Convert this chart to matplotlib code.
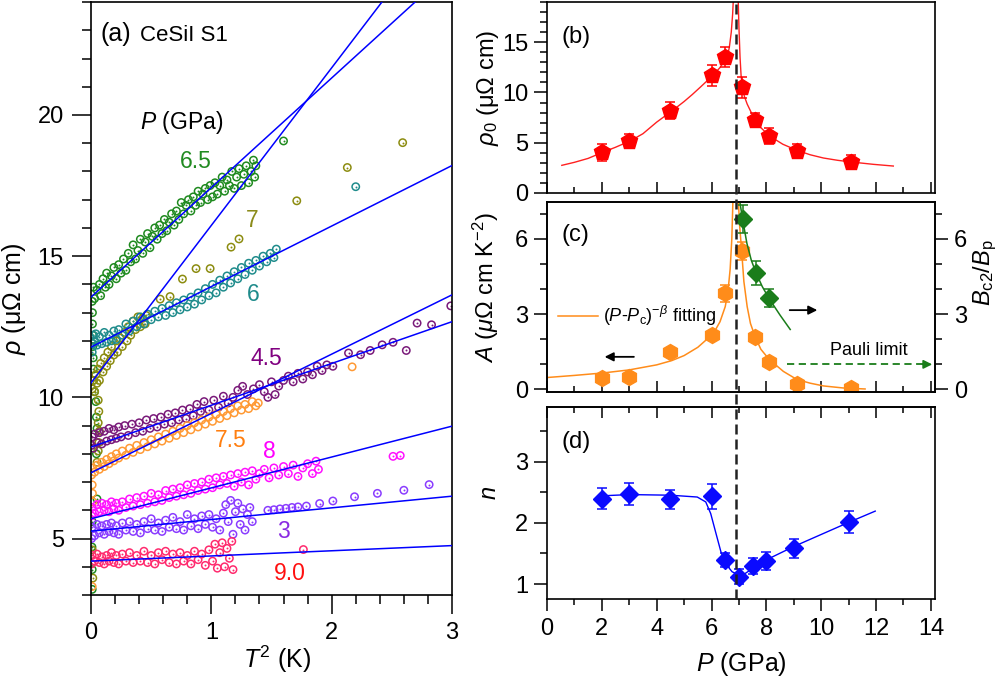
import matplotlib
matplotlib.use('Agg')
import matplotlib.pyplot as plt
from matplotlib.lines import Line2D
from matplotlib import transforms
from matplotlib.ticker import MultipleLocator

plt.rcParams['font.family'] = ['Liberation Sans', 'DejaVu Sans']
plt.rcParams['mathtext.fontset'] = 'custom'
plt.rcParams['mathtext.rm'] = 'Liberation Sans'
plt.rcParams['mathtext.it'] = 'Liberation Sans:italic'
plt.rcParams['mathtext.bf'] = 'Liberation Sans:bold'
plt.rcParams['axes.linewidth'] = 1.2

# ---------------- panel (a): rho vs T^2, one list of (T2, rho) per pressure
p65 = [(0.01, 13.4), (0.012, 13.0), (0.012, 12.6), (0.015, 12.2), (0.015, 11.8), (0.018, 11.4),
       (0.02, 11.0), (0.02, 10.6), (0.03, 10.2), (0.04, 9.85), (0.045, 9.3), (0.05, 8.9),
       (0.045, 8.0), (0.05, 6.4), (0.01, 5.6), (0.008, 4.7), (0.01, 3.9), (0.01, 3.2),
       (0.02, 13.9), (0.03, 13.5), (0.05, 13.8), (0.07, 14.0), (0.08, 13.6), (0.10, 14.2),
       (0.12, 13.9), (0.13, 14.4), (0.15, 14.0), (0.17, 14.3), (0.19, 14.6), (0.21, 14.2),
       (0.23, 14.7), (0.25, 14.4), (0.27, 14.9), (0.29, 14.5), (0.31, 15.1), (0.33, 14.8),
       (0.35, 15.4), (0.37, 14.9), (0.39, 15.2), (0.41, 15.6), (0.43, 15.1), (0.45, 15.5),
       (0.47, 15.8), (0.49, 15.3), (0.51, 15.7), (0.53, 16.0), (0.55, 15.6), (0.57, 16.1),
       (0.59, 15.8), (0.61, 16.3), (0.63, 15.9), (0.65, 16.2), (0.67, 16.5), (0.69, 16.1),
       (0.71, 16.6), (0.73, 16.3), (0.75, 16.9), (0.77, 16.5), (0.79, 16.8), (0.81, 17.0),
       (0.83, 16.6), (0.85, 17.1), (0.87, 16.8), (0.89, 17.3), (0.91, 16.9), (0.93, 17.2),
       (0.95, 17.4), (0.97, 17.0), (0.99, 17.5), (1.01, 17.1), (1.03, 17.6), (1.05, 17.2),
       (1.07, 17.5), (1.09, 17.8), (1.11, 17.3), (1.13, 17.7), (1.15, 17.5), (1.17, 18.0),
       (1.19, 17.4), (1.21, 17.8), (1.23, 18.1), (1.25, 17.5), (1.27, 17.9), (1.29, 18.2),
       (1.31, 17.6), (1.33, 18.0), (1.35, 18.4), (1.36, 17.8), (1.37, 18.2), (1.60, 19.08)]

p7 = [(0.01, 10.3), (0.02, 10.6), (0.03, 10.2), (0.04, 10.8), (0.05, 10.5), (0.06, 11.0),
      (0.07, 10.6), (0.08, 11.2), (0.10, 10.9), (0.11, 11.4), (0.13, 11.1), (0.14, 11.6),
      (0.16, 11.3), (0.17, 11.8), (0.19, 11.5), (0.21, 12.0), (0.22, 11.6), (0.24, 12.1),
      (0.26, 11.8), (0.28, 12.3), (0.30, 12.0), (0.31, 12.5), (0.33, 12.2), (0.35, 12.7),
      (0.37, 12.4), (0.39, 12.85), (0.41, 12.5), (0.43, 12.8), (0.45, 12.6), (0.46, 12.9),
      (0.575, 13.48), (0.657, 13.57), (0.76, 14.19), (0.873, 14.56), (0.99, 14.56),
      (1.164, 15.32), (1.23, 15.61), (1.71, 16.96), (2.13, 18.14), (2.59, 19.02),
      (0.06, 9.9), (0.065, 9.5), (0.06, 9.1), (0.07, 8.8), (0.065, 8.4), (0.06, 8.1),
      (0.05, 7.7), (0.01, 4.6), (0.015, 3.6)]

p6 = [(0.01, 11.6), (0.015, 11.9), (0.02, 12.2), (0.03, 12.0), (0.04, 12.25), (0.05, 11.85),
      (0.07, 12.15), (0.09, 11.9), (0.11, 12.3), (0.13, 11.95), (0.15, 12.2), (0.17, 12.0),
      (0.19, 12.35), (0.21, 12.05), (0.23, 12.4), (0.26, 12.2), (0.29, 12.6), (0.32, 12.35),
      (0.35, 12.7), (0.38, 12.5), (0.41, 12.85), (0.44, 12.6), (0.47, 12.95), (0.50, 12.75),
      (0.53, 13.05), (0.56, 12.85), (0.59, 13.15), (0.62, 12.9), (0.65, 13.25), (0.68, 13.0),
      (0.71, 13.35), (0.74, 13.1), (0.77, 13.45), (0.80, 13.2), (0.83, 13.55), (0.86, 13.3),
      (0.89, 13.7), (0.92, 13.45), (0.95, 13.85), (0.98, 13.6), (1.01, 14.0), (1.04, 13.7),
      (1.07, 14.15), (1.10, 13.9), (1.13, 14.3), (1.16, 14.05), (1.19, 14.45), (1.22, 14.2),
      (1.25, 14.6), (1.28, 14.35), (1.31, 14.75), (1.34, 14.5), (1.37, 14.85), (1.40, 14.65),
      (1.43, 15.0), (1.46, 14.8), (1.49, 15.1), (1.52, 14.95), (1.54, 15.25), (2.2, 17.46)]

p45 = [(0.005, 8.3), (0.01, 8.6), (0.02, 8.2), (0.03, 8.7), (0.05, 8.4), (0.07, 8.75),
       (0.09, 8.35), (0.11, 8.8), (0.13, 8.45), (0.15, 8.9), (0.17, 8.5), (0.19, 8.85),
       (0.21, 8.55), (0.23, 8.95), (0.25, 8.6), (0.28, 9.0), (0.31, 8.65), (0.34, 9.05),
       (0.37, 8.75), (0.40, 9.1), (0.43, 8.8), (0.46, 9.2), (0.49, 8.9), (0.52, 9.25),
       (0.55, 8.95), (0.58, 9.3), (0.61, 9.05), (0.64, 9.4), (0.67, 9.1), (0.70, 9.45),
       (0.73, 9.2), (0.76, 9.55), (0.79, 9.25), (0.82, 9.6), (0.85, 9.35), (0.88, 9.75),
       (0.91, 9.5), (0.94, 9.85), (0.98, 9.55), (1.02, 9.9), (1.06, 9.65), (1.10, 10.04),
       (1.14, 9.8), (1.18, 10.0), (1.22, 10.25), (1.26, 10.39), (1.30, 10.1), (1.35, 10.3),
       (1.40, 10.45), (1.44, 10.2), (1.47, 10.0), (1.50, 10.55), (1.53, 10.1), (1.56, 10.4),
       (1.60, 10.6), (1.64, 10.75), (1.68, 10.55), (1.72, 10.85), (1.76, 10.65), (1.80, 10.9),
       (1.84, 10.8), (1.88, 11.1), (1.92, 10.95), (1.96, 11.15), (2.01, 11.1), (2.14, 11.57),
       (2.24, 11.51), (2.32, 11.66), (2.42, 11.86), (2.51, 11.95), (2.62, 11.66),
       (2.71, 12.63), (2.83, 12.57), (2.99, 13.24)]

p75 = [(0.01, 6.9), (0.012, 6.6), (0.015, 6.3), (0.01, 3.3), (0.005, 7.25), (0.01, 7.5),
       (0.03, 7.35), (0.05, 7.6), (0.07, 7.45), (0.09, 7.7), (0.11, 7.55), (0.13, 7.8),
       (0.15, 7.65), (0.17, 7.9), (0.19, 7.75), (0.21, 8.0), (0.23, 7.85), (0.26, 8.1),
       (0.29, 7.95), (0.32, 8.2), (0.35, 8.05), (0.38, 8.3), (0.41, 8.15), (0.44, 8.4),
       (0.47, 8.25), (0.50, 8.5), (0.53, 8.35), (0.56, 8.6), (0.59, 8.45), (0.62, 8.7),
       (0.65, 8.55), (0.68, 8.8), (0.71, 8.65), (0.74, 8.9), (0.77, 8.75), (0.80, 9.0),
       (0.83, 8.85), (0.86, 9.1), (0.89, 8.95), (0.92, 9.2), (0.95, 9.05), (0.98, 9.3),
       (1.01, 9.15), (1.04, 9.4), (1.07, 9.25), (1.10, 9.5), (1.13, 9.35), (1.16, 9.6),
       (1.19, 9.45), (1.22, 9.7), (1.25, 9.55), (1.28, 9.75), (1.31, 9.6), (1.34, 9.85),
       (1.37, 9.7), (1.39, 9.8), (2.17, 11.08)]

p8 = [(0.005, 5.8), (0.01, 6.1), (0.03, 5.9), (0.05, 6.2), (0.07, 5.95), (0.09, 6.25),
      (0.11, 6.0), (0.13, 6.2), (0.15, 5.95), (0.17, 6.3), (0.19, 6.05), (0.21, 6.25),
      (0.23, 6.0), (0.26, 6.3), (0.29, 6.1), (0.32, 6.4), (0.35, 6.15), (0.38, 6.45),
      (0.41, 6.2), (0.44, 6.5), (0.47, 6.25), (0.50, 6.6), (0.53, 6.3), (0.56, 6.55),
      (0.59, 6.35), (0.62, 6.7), (0.65, 6.45), (0.68, 6.75), (0.71, 6.5), (0.74, 6.8),
      (0.77, 6.55), (0.80, 6.9), (0.83, 6.6), (0.86, 6.95), (0.89, 6.7), (0.92, 7.0),
      (0.95, 6.75), (0.98, 7.1), (1.01, 6.8), (1.04, 7.15), (1.07, 6.9), (1.10, 7.2),
      (1.13, 6.95), (1.16, 7.25), (1.19, 6.85), (1.22, 7.3), (1.25, 7.0), (1.28, 7.35),
      (1.31, 6.9), (1.34, 7.4), (1.37, 7.1), (1.40, 7.3), (1.44, 7.45), (1.48, 7.15),
      (1.52, 7.5), (1.56, 7.25), (1.60, 7.55), (1.64, 7.3), (1.68, 7.6), (1.72, 7.2),
      (1.76, 7.5), (1.80, 7.65), (1.84, 7.3), (1.87, 7.74), (1.89, 7.45),
      (2.51, 7.91), (2.57, 7.94)]

p3 = [(0.005, 5.0), (0.01, 5.4), (0.03, 5.1), (0.05, 5.5), (0.07, 5.2), (0.09, 5.45),
      (0.11, 5.15), (0.13, 5.5), (0.15, 5.25), (0.17, 5.55), (0.19, 5.2), (0.21, 5.45),
      (0.23, 5.15), (0.26, 5.55), (0.29, 5.3), (0.32, 5.6), (0.35, 5.25), (0.38, 5.5),
      (0.41, 5.2), (0.44, 5.6), (0.47, 5.35), (0.50, 5.7), (0.53, 5.3), (0.56, 5.55),
      (0.59, 5.25), (0.62, 5.65), (0.65, 5.4), (0.68, 5.75), (0.71, 5.35), (0.74, 5.6),
      (0.77, 5.3), (0.80, 5.85), (0.83, 5.45), (0.86, 5.7), (0.89, 5.35), (0.92, 5.8),
      (0.95, 5.5), (0.98, 5.85), (1.01, 5.4), (1.04, 5.7), (1.07, 5.3), (1.10, 5.9),
      (1.12, 6.2), (1.14, 5.6), (1.16, 6.35), (1.18, 5.15), (1.20, 5.95), (1.22, 6.25),
      (1.24, 5.5), (1.26, 6.05), (1.28, 5.3), (1.30, 5.85), (1.32, 6.1), (1.34, 5.6),
      (1.47, 6.0), (1.52, 6.02), (1.57, 6.05), (1.62, 6.07), (1.67, 6.1), (1.72, 6.12),
      (1.79, 6.15), (1.90, 6.24), (2.01, 6.33), (2.19, 6.48), (2.38, 6.6), (2.6, 6.71),
      (2.81, 6.91)]

p9 = [(0.005, 4.1), (0.01, 4.4), (0.03, 4.2), (0.05, 4.45), (0.07, 4.15), (0.09, 4.35),
      (0.11, 4.1), (0.13, 4.4), (0.15, 4.2), (0.17, 4.5), (0.19, 4.15), (0.21, 4.4),
      (0.23, 4.1), (0.26, 4.45), (0.29, 4.2), (0.32, 4.5), (0.35, 4.15), (0.38, 4.4),
      (0.41, 4.2), (0.44, 4.55), (0.47, 4.15), (0.50, 4.4), (0.53, 4.1), (0.56, 4.5),
      (0.59, 4.25), (0.62, 4.55), (0.65, 4.15), (0.68, 4.45), (0.71, 4.1), (0.74, 4.5),
      (0.77, 4.2), (0.80, 4.4), (0.83, 4.1), (0.86, 4.55), (0.89, 4.25), (0.92, 4.45),
      (0.95, 4.05), (0.98, 4.6), (1.01, 4.2), (1.03, 4.8), (1.05, 3.95), (1.07, 4.5),
      (1.09, 4.85), (1.11, 4.0), (1.13, 4.65), (1.15, 4.3), (1.17, 4.9), (1.18, 3.9),
      (1.765, 4.61)]

series_a = [p65, p7, p6, p45, p75, p8, p3, p9]
series_col = ['#1f8a1f', '#8c8c10', '#1f8c8c', '#7a1a7a', '#ff9a35', '#ff10ff', '#8a3cff', '#ff2a6e']
series_dot = [True, True, True, True, False, True, True, True]

# straight T^2 fits: rho at T^2 = 0 and at T^2 = 3
fit_start = [13.55, 10.51, 11.78, 8.24, 7.33, 5.70, 5.26, 4.20]
fit_end = [25.19, 27.25, 18.21, 12.68, 13.63, 8.98, 6.50, 4.75]

lab_text = ['6.5', '7', '6', '4.5', '7.5', '8', '3', '9.0']
lab_x = [0.87, 1.34, 1.35, 1.46, 1.16, 1.48, 1.60, 1.65]
lab_y = [18.35, 16.25, 13.63, 11.39, 8.47, 8.09, 5.26, 3.76]
lab_col = ['#228b22', '#8b8b1a', '#1f8b8b', '#800080', '#ff7f10', '#ff00ff', '#8a2be2', '#ff1010']

# ---------------- panels (b)-(d)
P_b = [2.0, 3.0, 4.5, 6.0, 6.5, 7.1, 7.6, 8.1, 9.1, 11.1]
rho0 = [4.03, 5.13, 8.2, 11.7, 13.55, 10.5, 7.3, 5.7, 4.18, 3.12]
rho0_err = [0.88, 0.7, 0.83, 1.04, 1.0, 1.0, 0.7, 0.78, 0.68, 0.63]
bfit_l_p = [0.54, 1.0, 1.5, 2.03, 2.5, 3.05, 3.5, 4.0, 4.55, 5.0, 5.3, 5.6, 6.07, 6.3, 6.58, 6.65, 6.72, 6.77, 6.8]
bfit_l_r = [2.75, 3.05, 3.44, 4.05, 4.55, 5.2, 5.9, 7.05, 8.15, 9.1, 9.8, 10.55, 11.75, 12.45, 13.6, 14.5, 16.0, 17.8, 19.5]
bfit_r_p = [6.97, 7.0, 7.04, 7.08, 7.13, 7.2, 7.3, 7.45, 7.59, 7.8, 8.1, 8.6, 9.11, 9.6, 10.08, 10.6, 11.14, 11.9, 12.63]
bfit_r_r = [19.5, 16.5, 13.5, 11.6, 10.5, 9.6, 8.85, 8.0, 7.35, 6.5, 5.7, 4.85, 4.25, 3.8, 3.48, 3.25, 3.07, 2.85, 2.68]

P_c = [2.0, 3.0, 4.5, 6.0, 6.5, 7.1, 7.6, 8.1, 9.1, 11.1]
A_c = [0.45, 0.51, 1.48, 2.15, 3.83, 5.52, 2.1, 1.08, 0.22, 0.05]
A_err = [0.1, 0.1, 0.1, 0.12, 0.33, 0.37, 0.12, 0.1, 0.08, 0.05]
cfit_l_p = [0.05, 1.0, 2.06, 3.0, 4.0, 4.55, 5.0, 5.5, 6.07, 6.31, 6.5, 6.6, 6.68, 6.74, 6.78]
cfit_l_a = [0.48, 0.56, 0.66, 0.78, 0.98, 1.15, 1.35, 1.68, 2.23, 2.7, 3.3, 3.9, 4.8, 6.0, 7.5]
cfit_r_p = [6.98, 7.02, 7.1, 7.18, 7.3, 7.42, 7.59, 7.8, 8.1, 8.62, 9.11, 9.6, 10.09, 10.8, 11.6]
cfit_r_a = [7.5, 6.6, 5.5, 4.3, 3.3, 2.63, 2.1, 1.6, 1.2, 0.72, 0.4, 0.25, 0.14, 0.06, 0.02]
P_bc2 = [7.13, 7.62, 8.1]
bc2 = [6.8, 4.65, 3.65]
bc2_err = [0.55, 0.47, 0.37]
bc2fit_p = [7.04, 7.13, 7.29, 7.45, 7.62, 7.85, 8.1, 8.5, 8.87]
bc2fit_v = [7.42, 6.8, 5.82, 5.15, 4.65, 4.1, 3.62, 2.96, 2.39]

P_d = [2.0, 3.0, 4.5, 6.0, 6.5, 7.0, 7.5, 8.0, 9.0, 11.0]
n_d = [2.39, 2.47, 2.38, 2.43, 1.39, 1.12, 1.29, 1.38, 1.58, 2.01]
n_err = [0.17, 0.18, 0.16, 0.21, 0.12, 0.12, 0.13, 0.15, 0.15, 0.18]
dfit_p = [2.02, 3.0, 4.5, 5.48, 5.79, 5.97, 6.16, 6.34, 6.5, 6.75, 6.98, 7.22, 7.49, 7.98, 8.99, 10.97, 11.97]
dfit_n = [2.44, 2.46, 2.45, 2.42, 2.34, 2.15, 1.83, 1.53, 1.34, 1.2, 1.15, 1.17, 1.25, 1.39, 1.61, 2.0, 2.19]

Pc = 6.89
pauli = 1.0

green = '#1a7d1a'
orange = '#ff8c1a'

fig = plt.figure(figsize=(10, 6.79), dpi=100)

# ---------------- (a)
ax = fig.add_axes([0.091, 0.1237, 0.361, 0.8733])
for pts, col, dot in zip(series_a, series_col, series_dot):
    xs = [p[0] for p in pts]
    ys = [p[1] for p in pts]
    ax.scatter(xs, ys, s=28, facecolors='none', edgecolors=col, linewidths=1.1, zorder=2)
    if dot:
        ax.scatter(xs, ys, s=2, color=col, linewidths=0, zorder=2)
for r0, r3 in zip(fit_start, fit_end):
    ax.plot([0, 3], [r0, r3], color='#0000ff', lw=1.1, zorder=3)
for t, x, y, c in zip(lab_text, lab_x, lab_y, lab_col):
    ax.text(x, y, t, color=c, fontsize=16.5, ha='center', va='center')
ax.text(0.41, 19.75, r'$P$ (GPa)', fontsize=16.5, va='center')
ax.text(0.025, 0.946, '(a)', fontsize=18, va='center', transform=ax.transAxes)
ax.text(0.136, 0.944, 'CeSiI S1', fontsize=16, va='center', transform=ax.transAxes)
ax.set_xlim(0, 3)
ax.set_ylim(3, 24)
ax.set_xticks([0, 1, 2, 3])
ax.set_yticks([5, 10, 15, 20])
ax.xaxis.set_minor_locator(MultipleLocator(0.2))
ax.yaxis.set_minor_locator(MultipleLocator(1))
ax.tick_params(which='major', direction='out', length=13.5, width=1.1, labelsize=17, pad=6)
ax.tick_params(which='minor', direction='out', length=6.5, width=1.1)
ax.set_xlabel(r'$T^2$ (K)', fontsize=18)
ax.set_ylabel(r'$\rho$ (μΩ cm)', fontsize=18)
ax.xaxis.set_label_coords(0.515, -0.082)
ax.yaxis.set_label_coords(-0.175, 0.5)

# ---------------- (b)
axb = fig.add_axes([0.547, 0.7158, 0.388, 0.2812])
axb.plot(bfit_l_p, bfit_l_r, color='#ff2020', lw=1.0)
axb.plot(bfit_r_p, bfit_r_r, color='#ff2020', lw=1.0)
axb.errorbar(P_b, rho0, yerr=rho0_err, fmt='p', color='#ff0000', ms=12, capsize=3.5,
             elinewidth=1.1, capthick=1.1)
axb.set_ylim(0, 19)
axb.set_yticks([0, 5, 10, 15])
axb.yaxis.set_minor_locator(MultipleLocator(1))
axb.set_ylabel(r'$\rho_0$ (μΩ cm)', fontsize=17)
axb.text(0.038, 0.817, '(b)', fontsize=17, va='center', transform=axb.transAxes)

# ---------------- (c)
axc = fig.add_axes([0.547, 0.4227, 0.388, 0.2803])
fit_line, = axc.plot(cfit_l_p, cfit_l_a, color=orange, lw=1.1,
                     label=r'($P$-$P_{\rm c}$)$^{-\beta}$ fitting')
axc.plot(cfit_r_p, cfit_r_a, color=orange, lw=1.1)
axc.errorbar(P_c, A_c, yerr=A_err, fmt='h', color=orange, ms=11.5, capsize=3.5,
             elinewidth=1.1, capthick=1.1)
axc.set_ylim(-0.1, 7.48)
axc.set_yticks([0, 3, 6])
axc.yaxis.set_minor_locator(MultipleLocator(1))
axc.set_ylabel(r'$A$ ($\mu\Omega$ cm K$^{-2}$)', fontsize=17)
axc.text(0.038, 0.824, '(c)', fontsize=17, va='center', transform=axc.transAxes)
axc.legend(handles=[fit_line], loc='center left', bbox_to_anchor=(0.028, 0.40), frameon=False,
           fontsize=13, handlelength=2.2, handletextpad=0.3, borderpad=0, borderaxespad=0)
axc.annotate('', xy=(2.0, 1.3), xytext=(3.27, 1.3),
             arrowprops=dict(arrowstyle='-|>', color='k', lw=1.3, mutation_scale=13))
axc.annotate('', xy=(9.96, 3.16), xytext=(8.75, 3.16),
             arrowprops=dict(arrowstyle='-|>', color='k', lw=1.3, mutation_scale=13))
axc.text(10.33, 1.57, 'Pauli limit', fontsize=13, va='center')

axc2 = axc.twinx()
axc2.plot(bc2fit_p, bc2fit_v, color=green, lw=1.1)
axc2.errorbar(P_bc2, bc2, yerr=bc2_err, fmt='D', color=green, ms=9, capsize=3.5,
              elinewidth=1.1, capthick=1.1)
axc2.plot([8.75, 13.7], [pauli, pauli], color=green, lw=1.3, ls=(0, (4, 2.5)))
axc2.annotate('', xy=(14.15, pauli), xytext=(13.6, pauli), annotation_clip=False,
              arrowprops=dict(arrowstyle='-|>', color=green, lw=1.2, mutation_scale=13))
axc2.set_ylim(-0.1, 7.48)
axc2.set_yticks([0, 3, 6])
axc2.yaxis.set_minor_locator(MultipleLocator(1))
axc2.tick_params(axis='y', which='major', direction='out', length=9.5, width=1.1, labelsize=17, pad=4)
axc2.tick_params(axis='y', which='minor', direction='out', length=5, width=1.1)
axc2.set_ylabel(r'$B_{\rm c2}/B_{\rm p}$', fontsize=17)
axc2.yaxis.set_label_coords(1.095, 0.625)

# ---------------- (d)
axd = fig.add_axes([0.547, 0.1178, 0.388, 0.2828])
axd.plot(dfit_p, dfit_n, color='#0000ff', lw=1.0)
axd.errorbar(P_d, n_d, yerr=n_err, fmt='D', color='#0a0aff', ms=9, capsize=3.5,
             elinewidth=1.1, capthick=1.1)
axd.set_ylim(0.755, 3.89)
axd.set_yticks([1, 2, 3])
axd.yaxis.set_minor_locator(MultipleLocator(0.5))
axd.set_ylabel(r'$n$', fontsize=17)
axd.set_xlabel(r'$P$ (GPa)', fontsize=18)
axd.xaxis.set_label_coords(0.502, -0.265)
axd.text(0.038, 0.819, '(d)', fontsize=17, va='center', transform=axd.transAxes)
top = axd.secondary_xaxis('top')
top.set_xticks(range(0, 15, 2))
top.xaxis.set_minor_locator(MultipleLocator(1))
top.tick_params(which='major', direction='in', length=8, width=1.1, labeltop=False)
top.tick_params(which='minor', direction='in', length=4.5, width=1.1)

for a in (axb, axc, axd):
    a.set_xlim(0, 14.15)
    a.set_xticks(range(0, 15, 2))
    a.xaxis.set_minor_locator(MultipleLocator(1))
    a.tick_params(axis='y', which='major', direction='out', length=9.5, width=1.1, labelsize=17, pad=4)
    a.tick_params(axis='y', which='minor', direction='out', length=5, width=1.1)
    a.yaxis.set_label_coords(-0.118, 0.55)
for a in (axb, axc):
    a.tick_params(axis='x', which='major', direction='in', length=8, width=1.1, labelbottom=False)
    a.tick_params(axis='x', which='minor', direction='in', length=4.5, width=1.1)
axd.tick_params(axis='x', which='major', direction='out', length=8.5, width=1.1, labelsize=17, pad=5)
axd.tick_params(axis='x', which='minor', direction='out', length=4.5, width=1.1)

# dashed P_c line through (b)-(d)
trans = transforms.blended_transform_factory(axd.transData, fig.transFigure)
fig.add_artist(Line2D([Pc, Pc], [0.1178, 1.0], transform=trans, color='#222222',
                      lw=1.8, ls=(0, (4, 2)), zorder=5))

fig.savefig('out.png', dpi=100)
